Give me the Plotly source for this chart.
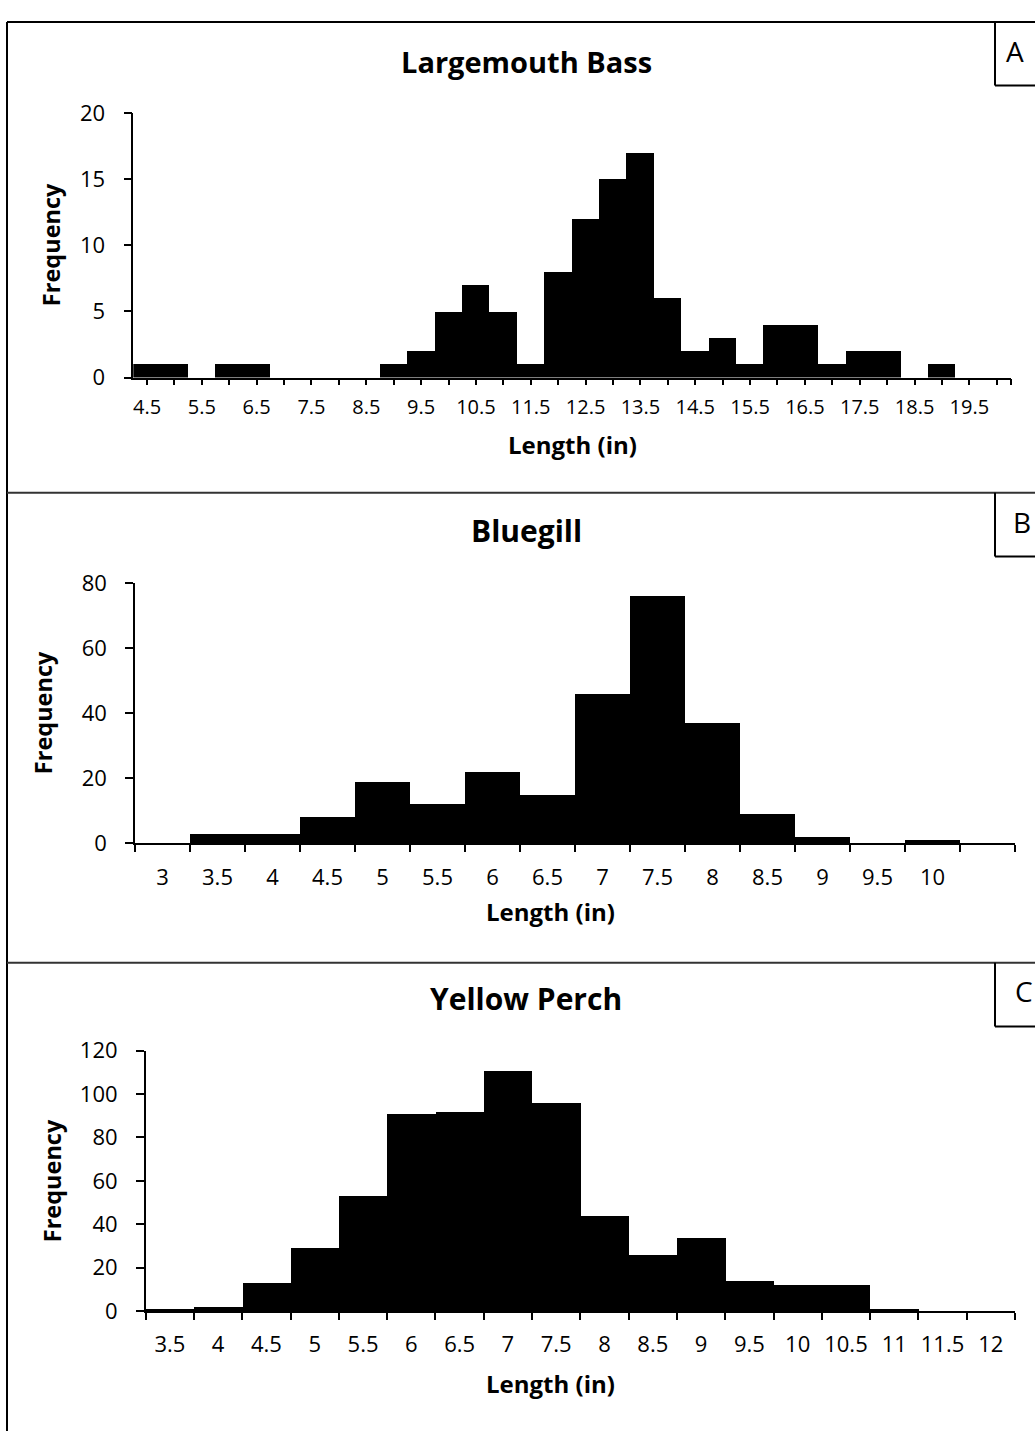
import plotly.graph_objects as go

W, H = 1035, 1441
FONT = "Open Sans"

# ---------------- data ----------------
bass_lengths = [4.5, 5.0, 5.5, 6.0, 6.5, 7.0, 7.5, 8.0, 8.5, 9.0, 9.5, 10.0, 10.5, 11.0, 11.5, 12.0,
                12.5, 13.0, 13.5, 14.0, 14.5, 15.0, 15.5, 16.0, 16.5, 17.0, 17.5, 18.0, 18.5, 19.0, 19.5, 20.0]
bass_counts = [1, 1, 0, 1, 1, 0, 0, 0, 0, 1, 2, 5, 7, 5, 1, 8,
               12, 15, 17, 6, 2, 3, 1, 4, 4, 1, 2, 2, 0, 1, 0, 0]
bass_ticklabels = ["4.5", "5.5", "6.5", "7.5", "8.5", "9.5", "10.5", "11.5",
                   "12.5", "13.5", "14.5", "15.5", "16.5", "17.5", "18.5", "19.5"]

bluegill_lengths = [3.0, 3.5, 4.0, 4.5, 5.0, 5.5, 6.0, 6.5, 7.0, 7.5, 8.0, 8.5, 9.0, 9.5, 10.0, 10.5]
bluegill_counts = [0, 3, 3, 8, 19, 12, 22, 15, 46, 76, 37, 9, 2, 0, 1, 0]
bluegill_ticklabels = ["3", "3.5", "4", "4.5", "5", "5.5", "6", "6.5", "7", "7.5", "8", "8.5", "9", "9.5", "10"]

perch_lengths = [3.5, 4.0, 4.5, 5.0, 5.5, 6.0, 6.5, 7.0, 7.5, 8.0, 8.5, 9.0, 9.5, 10.0, 10.5, 11.0, 11.5, 12.0]
perch_counts = [1, 2, 13, 29, 53, 91, 92, 111, 96, 44, 26, 34, 14, 12, 12, 1, 0, 0]
perch_ticklabels = ["3.5", "4", "4.5", "5", "5.5", "6", "6.5", "7", "7.5", "8", "8.5", "9", "9.5",
                    "10", "10.5", "11", "11.5", "12"]

titles = ["Largemouth Bass", "Bluegill", "Yellow Perch"]
panel_letters = ["A", "B", "C"]
y_title = "Frequency"
x_title = "Length (in)"
bin_width = 0.5


def px(x):
    return x / W


def py(y):
    return 1 - y / H


fig = go.Figure()

# ---------- traces ----------
fig.add_trace(go.Bar(x=bass_lengths, y=bass_counts, width=bin_width, marker=dict(color="black", line=dict(width=0)),
                     xaxis="x", yaxis="y", showlegend=False))
fig.add_trace(go.Bar(x=bluegill_lengths, y=bluegill_counts, width=bin_width,
                     marker=dict(color="black", line=dict(width=0)),
                     xaxis="x2", yaxis="y2", showlegend=False))
fig.add_trace(go.Bar(x=perch_lengths, y=perch_counts, width=bin_width, marker=dict(color="black", line=dict(width=0)),
                     xaxis="x3", yaxis="y3", showlegend=False))


def tf(size):
    return dict(family=FONT, size=size, color="black")


# ---------- panel A axes ----------
half = bin_width / 2
a_range = [bass_lengths[0] - half, bass_lengths[-1] + half]
a_tickvals = list(bass_lengths) + [a_range[1]]
a_ticktext = [(bass_ticklabels[i // 2] if i % 2 == 0 else "") for i in range(len(bass_lengths))] + [""]

fig.update_layout(
    xaxis=dict(domain=[px(133.3), px(1010.5)], anchor="y", range=a_range, tickmode="array",
               tickvals=a_tickvals, ticktext=a_ticktext, ticks="outside", ticklen=6, tickwidth=1.5,
               tickcolor="black", showline=True, linecolor="black", linewidth=1.5, showgrid=False,
               zeroline=False, tickfont=tf(20), ticklabelstandoff=5),
    yaxis=dict(domain=[py(369.3), py(99)], anchor="x", range=[0, 20], dtick=5, ticks="outside",
               ticklen=8, tickwidth=1.5, tickcolor="black", showline=True, linecolor="black",
               linewidth=1.5, showgrid=False, zeroline=False, tickfont=tf(22), ticklabelstandoff=14),
)

# ---------- panel B axes ----------
b_range = [bluegill_lengths[0] - half, bluegill_lengths[-1] + half]
fig.update_layout(
    xaxis2=dict(domain=[px(135), px(1015)], anchor="y2", range=b_range, tickmode="array",
                tickvals=bluegill_lengths[:len(bluegill_ticklabels)], ticktext=bluegill_ticklabels,
                ticks="", showline=True, linecolor="black", linewidth=1.5, showgrid=False,
                zeroline=False, tickfont=tf(22), ticklabelstandoff=13,
                minor=dict(ticks="outside", ticklen=7, tickwidth=1.5, tickcolor="black",
                           tickmode="linear", tick0=b_range[0], dtick=bin_width, showgrid=False)),
    yaxis2=dict(domain=[py(845), py(579)], anchor="x2", range=[0, 80], dtick=20, ticks="outside",
                ticklen=8, tickwidth=1.5, tickcolor="black", showline=True, linecolor="black",
                linewidth=1.5, showgrid=False, zeroline=False, tickfont=tf(22), ticklabelstandoff=14),
)

# ---------- panel C axes ----------
c_range = [perch_lengths[0] - half, perch_lengths[-1] + half]
fig.update_layout(
    xaxis3=dict(domain=[px(145.7), px(1015)], anchor="y3", range=c_range, tickmode="array",
                tickvals=perch_lengths, ticktext=perch_ticklabels,
                ticks="", showline=True, linecolor="black", linewidth=1.5, showgrid=False,
                zeroline=False, tickfont=tf(22), ticklabelstandoff=13,
                minor=dict(ticks="outside", ticklen=7, tickwidth=1.5, tickcolor="black",
                           tickmode="linear", tick0=c_range[0], dtick=bin_width, showgrid=False)),
    yaxis3=dict(domain=[py(1322.5), py(1056.7)], anchor="x3", range=[0, 120], dtick=20, ticks="outside",
                ticklen=8, tickwidth=1.5, tickcolor="black", showline=True, linecolor="black",
                linewidth=1.5, showgrid=False, zeroline=False, tickfont=tf(22), ticklabelstandoff=14),
)

# ---------- text annotations ----------
ann = []
title_pos = [(526, 46, 29), (526, 525, 30), (526, 1003, 30)]
for t, (x, y, s) in zip(titles, title_pos):
    ann.append(dict(text=f"<b>{t}</b>", x=px(x), y=py(y), xref="paper", yref="paper", showarrow=False,
                    xanchor="center", yanchor="middle", font=tf(s)))
ytitle_pos = [(51, 234), (43, 712), (52, 1190)]
for x, y in ytitle_pos:
    ann.append(dict(text=f"<b>{y_title}</b>", x=px(x), y=py(y), xref="paper", yref="paper", showarrow=False,
                    textangle=-90, xanchor="center", yanchor="middle", font=tf(23.5)))
xtitle_pos = [(572, 438), (550, 915), (550, 1397)]
for x, y in xtitle_pos:
    ann.append(dict(text=f"<b>{x_title}</b>", x=px(x), y=py(y), xref="paper", yref="paper", showarrow=False,
                    xanchor="center", yanchor="middle", font=tf(24)))
letter_pos = [(1015, 36), (1022, 517), (1024, 996)]
for l, (x, y) in zip(panel_letters, letter_pos):
    ann.append(dict(text=l, x=px(x), y=py(y), xref="paper", yref="paper", showarrow=False,
                    xanchor="center", yanchor="middle", font=tf(28)))

# ---------- frame lines ----------
shapes = []


def line(x0, y0, x1, y1, w=2, c="black"):
    shapes.append(dict(type="line", xref="paper", yref="paper", x0=px(x0), y0=py(y0), x1=px(x1), y1=py(y1),
                       line=dict(color=c, width=w)))


line(7, 6, 1040, 6)
line(7, 6, 7, 1445)
line(7, 487, 1040, 487, 2, "#333333")
line(7, 967, 1040, 967, 2, "#333333")
for top in (6, 487, 967):
    line(995, top, 995, top + 65)
    line(995, top + 65, 1040, top + 65)

fig.update_layout(
    width=W, height=H, margin=dict(l=0, r=0, t=0, b=0),
    paper_bgcolor="white", plot_bgcolor="white", bargap=0,
    annotations=ann, shapes=shapes, showlegend=False,
)

fig.write_html("out.html", config={"displayModeBar": False},
               post_script="document.body.style.margin='0px';document.body.style.overflow='hidden';")
